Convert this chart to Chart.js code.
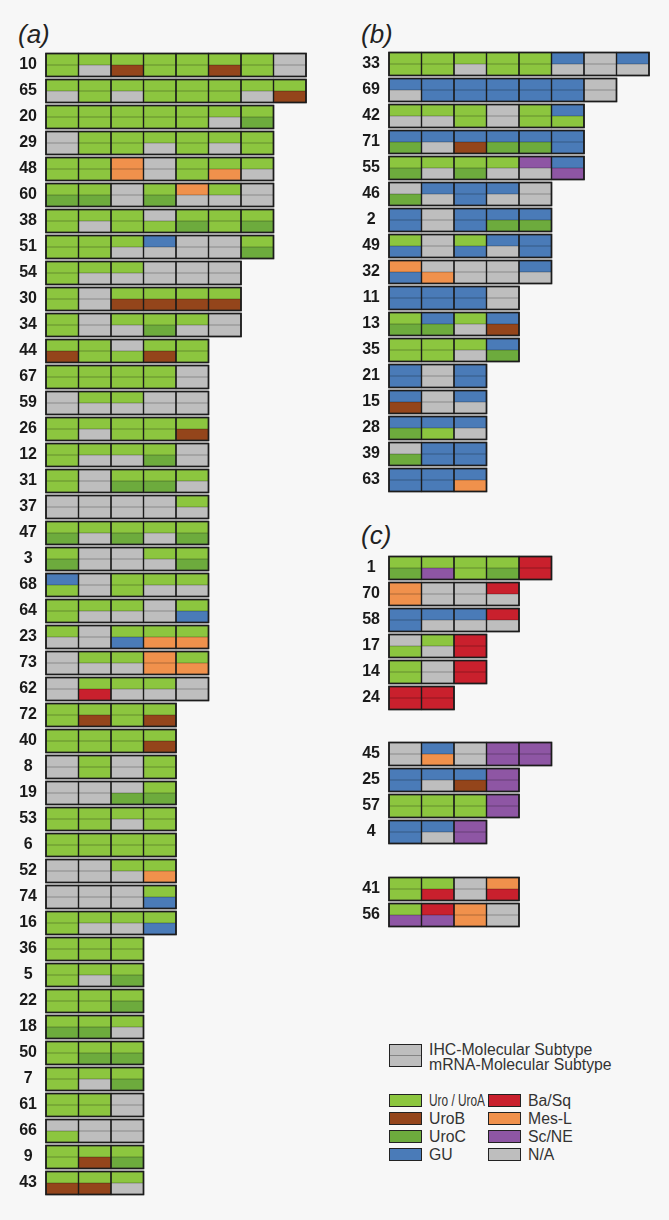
<!DOCTYPE html>
<html>
<head>
<meta charset="utf-8">
<script src="https://cdn.jsdelivr.net/npm/chart.js@4.4.1/dist/chart.umd.min.js"></script>
<style>
  html, body { margin: 0; padding: 0; background: #f7f7f7; }
  #wrap { position: relative; width: 669px; height: 1220px; overflow: hidden;
          font-family: "Liberation Sans", Arial, sans-serif; color: #2a2a2a; }
  .box { position: absolute; width: 310px; }
  .plabel { position: absolute; font-size: 26px; line-height: 26px; font-style: italic; color: #222; }
  .lg-text { position: absolute; font-size: 15.8px; line-height: 15px; color: #333; white-space: nowrap; transform-origin: 0 50%; }
  .sw { position: absolute; width: 33px; height: 13px; box-sizing: border-box; border: 1.5px solid #222; }
  .sw2 { position: absolute; width: 33px; height: 23px; box-sizing: border-box; border: 1.5px solid #222; background: #bebebe; }
  .sw2::after { content: ''; position: absolute; left: 0; right: 0; top: 9.5px; border-top: 1px solid rgba(0,0,0,0.3); }
</style>
</head>
<body>
<div id="wrap">
  <div class="plabel" style="left:18px; top:21px">(a)</div>
  <div class="plabel" style="left:361px; top:21px">(b)</div>
  <div class="plabel" style="left:361px; top:522px">(c)</div>

  <div class="box" style="left:0; top:52px; height:1144px"><canvas id="chartA"></canvas></div>
  <div class="box" style="left:343px; top:51px; height:442px"><canvas id="chartB"></canvas></div>
  <div class="box" style="left:343px; top:555px; height:156px"><canvas id="chartC1"></canvas></div>
  <div class="box" style="left:343px; top:741px; height:104px"><canvas id="chartC2"></canvas></div>
  <div class="box" style="left:343px; top:876px; height:52px"><canvas id="chartC3"></canvas></div>

  <div class="sw2" style="left:389px; top:1044px"></div>
  <div class="lg-text" style="left:429px; top:1042px">IHC-Molecular Subtype<br>mRNA-Molecular Subtype</div>
  <div id="legend"></div>
</div>

<script>
// subtype codes: A Uro/UroA, B UroB, C UroC, G GU, S Ba/Sq, M Mes-L, N Sc/NE, X N/A
const subtypeCodes = ['A', 'B', 'C', 'G', 'S', 'M', 'N', 'X'];
const subtypeNames = ['Uro / UroA', 'UroB', 'UroC', 'GU', 'Ba/Sq', 'Mes-L', 'Sc/NE', 'N/A'];

// each cell = IHC code + mRNA code
const rowsA = ['10','65','20','29','48','60','38','51','54','30','34','44','67','59','26','12','31','37','47','3','68','64',
               '23','73','62','72','40','8','19','53','6','52','74','16','36','5','22','18','50','7','61','66','9','43'];
const cellsA = [
  'AA AX AB AA AA AB AA XX', 'AX AA AX AA AA AA AX AB', 'AA AA AA AA AA AX AC', 'XX AA AA AX AA AX AA',
  'AA AA MM XX AA AM AX', 'AC AC XX AC MX AX XX', 'AA AX AA XA AC AA AC', 'AA AA AX GX XX XX AC',
  'AA AX AX XX XX XX', 'AA XX AB AB AB AB', 'AA XX AX AC AX XX',
  'AB AA XA AB AA', 'AA AA AA AA XX', 'XX AX AX XX XX', 'AA AX AA AA AB', 'AA AX AX AC XX',
  'AA XX AC AC AX', 'XX XX XX XX AX', 'AC AX AC AX AC', 'AC XX XX AX AC', 'GA XX AA AX AX',
  'AA AX AX XX AG', 'AX XX AG AM AM', 'XX AX AX MM AM', 'XX AS AX AX XX',
  'AA AB AA AB', 'AA AA AA AB', 'XX AA XX AA', 'XX XX XC AC', 'AA AA AX AA', 'AA AA AA AA',
  'XX XX AX AM', 'XX XX XX AG', 'AA AX AX AG',
  'AA AA AA', 'AA AX AC', 'AA AA AC', 'AC AC AX', 'AA AC AC', 'AA AX AC', 'AA AA XX', 'XA XX XX',
  'AA AB AC', 'AB AB AX'
];

const rowsB = ['33','69','42','71','55','46','2','49','32','11','13','35','21','15','28','39','63'];
const cellsB = [
  'AA AA AX AA AA GX XX GX', 'GX GG GG GG GG GG XX', 'AX AX AA XX AA GA', 'GC GX GB GC GC GG',
  'AC AX AC AX NX GN', 'XC GX GG GX XX', 'GG XX GG GC GC', 'AG XX AG GX GG', 'MG XM XX XX GX',
  'GG GG GG XX', 'AC GC AX GB', 'AA AA AX GC',
  'GG XX GG', 'GB XX GX', 'GC GA GX', 'XC GG GG', 'GG GG GM'
];

const rowsC1 = ['1','70','58','17','14','24'];
const cellsC1 = ['AC AN AA AC SS', 'MM XX XX SX', 'GG GX GX SX', 'XA AX SS', 'AA XX SS', 'SS SS'];

const rowsC2 = ['45','25','57','4'];
const cellsC2 = ['XX GM XX NN NN', 'GG GX GB NN', 'AA AA AA NN', 'GG GX NN'];

const rowsC3 = ['41','56'];
const cellsC3 = ['AA AS XX MS', 'AN SN MM XX'];

const palette = {
  A: '#8cc63f', B: '#94451b', C: '#6dab3d', G: '#4a7bb8',
  S: '#c9202d', M: '#f0914c', N: '#8e56a4', X: '#bebebe'
};

const COLS = 8;

// outlines each cell, the IHC/mRNA divider and the row frame, from the bar elements
const cellFrames = {
  id: 'cellFrames',
  afterDatasetsDraw(chart) {
    const ctx = chart.ctx;
    ctx.save();
    chart.data.labels.forEach((_, i) => {
      let first = null, lastX = null;
      for (let j = 0; j < COLS; j++) {
        if (chart.data.datasets[2 * j].data[i] == null) continue;
        const t = chart.getDatasetMeta(2 * j).data[i];
        const b = chart.getDatasetMeta(2 * j + 1).data[i];
        const x0 = t.base, x1 = t.x;
        const y0 = t.y - t.height / 2, ym = b.y - b.height / 2, y1 = b.y + b.height / 2;
        ctx.strokeStyle = 'rgba(0,0,0,0.28)';
        ctx.lineWidth = 1;
        ctx.beginPath(); ctx.moveTo(x0, ym); ctx.lineTo(x1, ym); ctx.stroke();
        ctx.strokeStyle = '#1c1c1c';
        ctx.lineWidth = 1.2;
        ctx.strokeRect(x0, y0, x1 - x0, y1 - y0);
        if (!first) first = { x0, y0, y1 };
        lastX = x1;
      }
      if (first) {
        ctx.lineWidth = 1.6;
        ctx.strokeRect(first.x0, first.y0, lastX - first.x0, first.y1 - first.y0);
      }
    });
    ctx.restore();
  }
};

function tileChart(id, rows, cells) {
  const split = cells.map(r => r.split(' '));
  const datasets = [];
  for (let j = 0; j < COLS; j++) {
    datasets.push({
      label: 'IHC', stack: 'ihc',
      data: split.map(r => (r[j] ? 1 : null)),
      backgroundColor: split.map(r => (r[j] ? palette[r[j][0]] : 'transparent')),
    });
    datasets.push({
      label: 'mRNA', stack: 'mrna',
      data: split.map(r => (r[j] ? 1 : null)),
      backgroundColor: split.map(r => (r[j] ? palette[r[j][1]] : 'transparent')),
    });
  }
  return new Chart(document.getElementById(id), {
    type: 'bar',
    data: { labels: rows, datasets },
    options: {
      indexAxis: 'y',
      responsive: true,
      maintainAspectRatio: false,
      animation: false,
      datasets: { bar: { categoryPercentage: 23 / 26, barPercentage: 1, borderWidth: 0 } },
      layout: { padding: { left: 0, right: 4, top: 0, bottom: 0 } },
      plugins: { legend: { display: false }, tooltip: { enabled: false } },
      scales: {
        x: { stacked: true, display: false, min: 0, max: COLS },
        y: {
          stacked: true,
          grid: { display: false, drawTicks: false },
          border: { display: false },
          ticks: {
            crossAlign: 'center', padding: 9, color: '#1a1a1a',
            font: { family: '"Liberation Sans", Arial, sans-serif', size: 16, weight: 'bold' }
          },
          afterFit(scale) {
            // fixed gutter for the row labels, no extra room above/below the rows
            scale.width = 46;
            scale.paddingTop = 0;
            scale.paddingBottom = 0;
          }
        }
      }
    },
    plugins: [cellFrames]
  });
}

tileChart('chartA', rowsA, cellsA);
tileChart('chartB', rowsB, cellsB);
tileChart('chartC1', rowsC1, cellsC1);
tileChart('chartC2', rowsC2, cellsC2);
tileChart('chartC3', rowsC3, cellsC3);

// colour key: two columns of four
const legend = document.getElementById('legend');
subtypeCodes.forEach((code, k) => {
  const col = Math.floor(k / 4), row = k % 4;
  const left = 389 + col * 99, top = 1094 + row * 18;
  const sw = document.createElement('div');
  sw.className = 'sw';
  sw.style.left = left + 'px';
  sw.style.top = top + 'px';
  sw.style.background = palette[code];
  legend.appendChild(sw);
  const tx = document.createElement('div');
  tx.className = 'lg-text';
  tx.style.left = (left + 40) + 'px';
  tx.style.top = (top - 1) + 'px';
  tx.textContent = subtypeNames[k];
  legend.appendChild(tx);
  // keep long names clear of the next column
  const w = tx.getBoundingClientRect().width;
  if (col === 0 && w > 56) tx.style.transform = 'scaleX(' + (56 / w).toFixed(3) + ')';
});
</script>
</body>
</html>
